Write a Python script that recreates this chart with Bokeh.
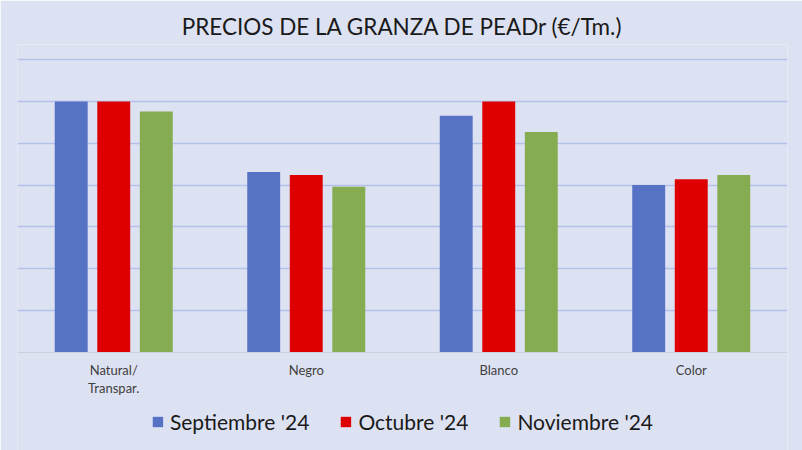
from bokeh.plotting import figure
from bokeh.models import FactorRange, Range1d, FixedTicker, Legend, LegendItem, ColumnDataSource
from bokeh.transform import dodge
from bokeh.core.properties import value
from bokeh.embed import file_html
from bokeh.resources import INLINE

categories = ["Natural/\nTranspar.", "Negro", "Blanco", "Color"]
series_names = ["Septiembre '24", "Octubre '24", "Noviembre '24"]
septiembre = [6.00, 4.31, 5.66, 4.00]
octubre = [6.00, 4.24, 6.00, 4.14]
noviembre = [5.76, 3.96, 5.27, 4.24]
grid_ticks = [1, 2, 3, 4, 5, 6, 7]

colors = ["#5572C4", "#DE0000", "#86AC52"]
BG = "#DDE2F3"
FONT = "Lato"

src = ColumnDataSource(dict(cat=categories, sep=septiembre, oct=octubre, nov=noviembre))

p = figure(width=802, height=450, x_range=FactorRange(factors=categories, range_padding=0),
           y_range=Range1d(-2.359, 7.367), output_backend="svg", toolbar_location=None,
           background_fill_color=BG, border_fill_color=BG,
           min_border_left=17, min_border_right=15, min_border_top=44, min_border_bottom=0)
p.outline_line_color = None

p.title.text = "PRECIOS DE LA GRANZA DE PEADr (€/Tm.)"
p.title.align = "center"
p.title.text_font = FONT
p.title.text_font_size = "22.5px"
p.title.text_font_style = "normal"
p.title.text_color = "#1a1a1a"
p.title.standoff = 10

p.xaxis.visible = False
p.yaxis.visible = False
p.yaxis.ticker = FixedTicker(ticks=grid_ticks)
p.ygrid.ticker = FixedTicker(ticks=grid_ticks)
p.ygrid.grid_line_color = "#B3C0E8"
p.ygrid.grid_line_width = 1.4
p.xgrid.grid_line_color = None

# baseline
p.hspan(y=[0], line_color="#CDD0DA", line_width=1.2)

offsets = [-0.221, 0.0, 0.221]
renderers = []
for col, off, c in zip(["sep", "oct", "nov"], offsets, colors):
    r = p.vbar(x=dodge("cat", off, range=p.x_range), top=col, width=0.171, bottom=0,
               source=src, fill_color=c, line_color=None)
    renderers.append(r)

# category labels
lab_src = ColumnDataSource(dict(cat=categories, y=[-0.24] * len(categories)))
p.text(x="cat", y="y", text="cat", source=lab_src, text_font=value(FONT),
       text_font_size="13px", text_color="#404040", text_align="center",
       text_baseline="top", text_line_height=1.12)

legend = Legend(items=[LegendItem(label=n, renderers=[r]) for n, r in zip(series_names, renderers)],
                orientation="horizontal", location="bottom_center")
legend.label_text_font = FONT
legend.label_text_font_size = "21px"
legend.label_text_color = "#1a1a1a"
legend.glyph_width = 13
legend.glyph_height = 13
legend.label_standoff = 6
legend.spacing = 30
legend.background_fill_alpha = 0
legend.border_line_color = None
legend.padding = 0
legend.margin = 16
p.add_layout(legend)

open("out.html", "w").write(file_html(p, INLINE))
